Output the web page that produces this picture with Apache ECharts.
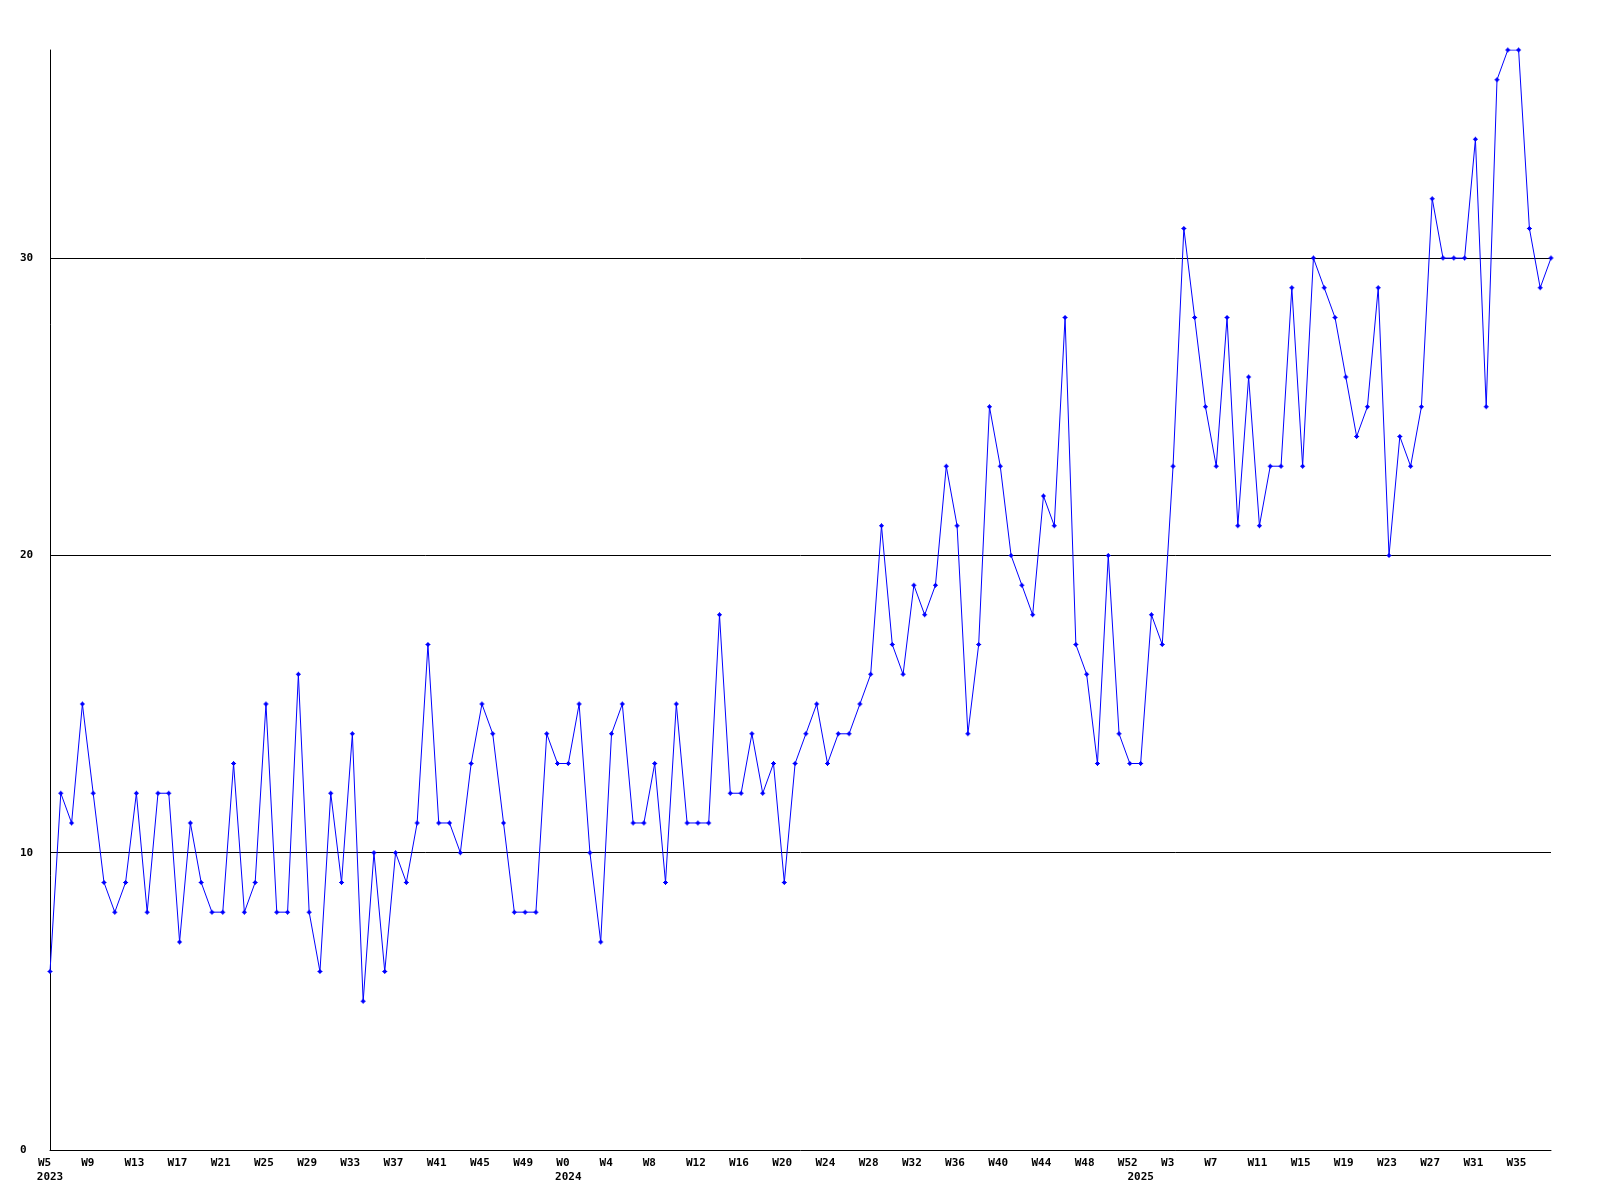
<!DOCTYPE html>
<html>
<head>
<meta charset="utf-8">
<script src="https://cdn.jsdelivr.net/npm/echarts@6/dist/echarts.min.js"></script>
<style>
html,body{margin:0;padding:0;background:#fff;}
#chart{width:1600px;height:1200px;}
</style>
</head>
<body>
<div id="chart"></div>
<script>
// Week labels per year (one point per week)
var weeks2023 = ['W5','W6','W7','W8','W9','W10','W11','W12','W13','W14','W15','W16','W17','W18','W19','W20','W21','W22','W23','W24','W25','W26','W27','W28','W29','W30','W31','W32','W33','W34','W35','W36','W37','W38','W39','W40','W41','W42','W43','W44','W45','W46','W47','W48','W49','W50','W51','W52'];
var weeks2024 = ['W0','W1','W2','W3','W4','W5','W6','W7','W8','W9','W10','W11','W12','W13','W14','W15','W16','W17','W18','W19','W20','W21','W22','W23','W24','W25','W26','W27','W28','W29','W30','W31','W32','W33','W34','W35','W36','W37','W38','W39','W40','W41','W42','W43','W44','W45','W46','W47','W48','W49','W50','W51','W52'];
var weeks2025 = ['W0','W1','W2','W3','W4','W5','W6','W7','W8','W9','W10','W11','W12','W13','W14','W15','W16','W17','W18','W19','W20','W21','W22','W23','W24','W25','W26','W27','W28','W29','W30','W31','W32','W33','W34','W35','W36','W37','W38'];
var years = ['2023','2024','2025'];

// Weekly values
var values2023 = [6,12,11,15,12,9,8,9,12,8,12,12,7,11,9,8,8,13,8,9,15,8,8,16,8,6,12,9,14,5,10,6,10,9,11,17,11,11,10,13,15,14,11,8,8,8,14,13];
var values2024 = [13,15,10,7,14,15,11,11,13,9,15,11,11,11,18,12,12,14,12,13,9,13,14,15,13,14,14,15,16,21,17,16,19,18,19,23,21,14,17,25,23,20,19,18,22,21,28,17,16,13,20,14,13];
var values2025 = [13,18,17,23,31,28,25,23,28,21,26,21,23,23,29,23,30,29,28,26,24,25,29,20,24,23,25,32,30,30,30,34,25,36,37,37,31,29,30];

var yTicks = [0,10,20,30];
var yMax = 37;

var weekCats = [], yearCats = [], vals = [];
[[weeks2023, values2023, years[0]],[weeks2024, values2024, years[1]],[weeks2025, values2025, years[2]]].forEach(function(g){
  g[0].forEach(function(w, i){
    weekCats.push(g[2] + '-' + w);
    yearCats.push(i === 0 ? g[2] : g[2] + '#' + i);
    vals.push(g[1][i]);
  });
});

var font = 'DejaVu Sans Mono';
var chart = echarts.init(document.getElementById('chart'), null, {renderer:'canvas'});
chart.setOption({
  animation:false,
  backgroundColor:'#ffffff',
  grid:{left:50,right:49,top:50,bottom:50,containLabel:false},
  xAxis:[{
    type:'category',
    data:weekCats,
    boundaryGap:false,
    axisLine:{show:true,lineStyle:{color:'#000',width:1}},
    axisTick:{show:false},
    splitLine:{show:false},
    axisLabel:{
      interval:3,
      margin:8,
      color:'#000',
      fontFamily:font,
      fontWeight:'bold',
      fontSize:11,
      formatter:function(v){return '{w|' + v.split('-')[1] + '}';},
      rich:{w:{width:24,align:'left',fontFamily:font,fontWeight:'bold',fontSize:11,color:'#000'}}
    }
  },{
    type:'category',
    data:yearCats,
    boundaryGap:false,
    position:'bottom',
    axisLine:{show:false},
    axisTick:{show:false},
    splitLine:{show:false},
    axisLabel:{
      interval:function(i, v){return v.indexOf('#') < 0;},
      margin:22,
      color:'#000',
      fontFamily:font,
      fontWeight:'bold',
      fontSize:11,
      formatter:function(v){return v.indexOf('#') < 0 ? v : '';}
    }
  }],
  yAxis:{
    type:'value',
    min:yTicks[0],
    max:yMax,
    interval:yTicks[1]-yTicks[0],
    axisLine:{show:true,lineStyle:{color:'#000',width:1}},
    axisTick:{show:false},
    splitLine:{show:true,showMinLine:false,showMaxLine:false,lineStyle:{color:'#000',width:1}},
    axisLabel:{
      showMaxLabel:false,
      align:'left',
      margin:30,
      color:'#000',
      fontFamily:font,
      fontWeight:'bold',
      fontSize:11
    }
  },
  series:[{
    type:'line',
    xAxisIndex:0,
    data:vals,
    symbol:'path://M1,1H4V4H1Z M2,0H3V5H2Z M0,2H5V3H0Z',
    symbolSize:5,
    showAllSymbol:true,
    lineStyle:{color:'#0000ff',width:1},
    itemStyle:{color:'#0000ff',borderWidth:0},
    emphasis:{disabled:true}
  }]
});
</script>
</body>
</html>
